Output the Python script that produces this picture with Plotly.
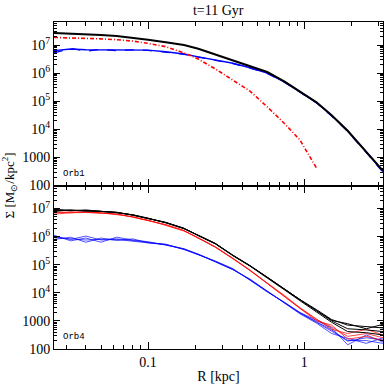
import numpy as np
import plotly.graph_objects as go

# radii [kpc]
R = [0.025, 0.032, 0.04, 0.05, 0.063, 0.08, 0.1, 0.13, 0.17, 0.21, 0.27,
     0.35, 0.45, 0.58, 0.75, 0.94, 1.2, 1.5, 1.9, 2.5, 3.2]

# ---- Orb1 (top panel), log10 Sigma ----
orb1_total = [7.43, 7.41, 7.39, 7.36, 7.32, 7.26, 7.19, 7.10, 7.00, 6.87, 6.66,
              6.44, 6.23, 6.04, 5.70, 5.35, 4.96, 4.50, 3.95, 3.20, 2.52]
orb1_dm = [6.80, 6.86, 6.83, 6.83, 6.82, 6.82, 6.82, 6.76, 6.68, 6.58, 6.47,
           6.35, 6.19, 6.00, 5.68, 5.34, 4.95, 4.49, 3.94, 3.19, 2.50]
orb1_dm_b = [6.72, 6.88, 6.78, 6.85, 6.80, 6.83, 6.81, 6.75, 6.67, 6.57, 6.46,
             6.34, 6.18, 5.99, 5.67, 5.33, 4.94, 4.47, 3.92, 3.17, 2.47]
orb1_star = [7.27, 7.26, 7.24, 7.22, 7.19, 7.14, 7.06, 6.94, 6.72, 6.50, 6.15,
             5.75, 5.36, 4.80, 4.20, 3.62, 2.62]

# ---- Orb4 (bottom panel), several snapshots, log10 Sigma ----
orb4_total = [
    [6.93, 6.94, 6.93, 6.90, 6.86, 6.77, 6.65, 6.50, 6.29, 6.04, 5.75,
     5.33, 4.96, 4.55, 4.12, 3.74, 3.36, 3.00, 2.72, 2.68, 2.62],
    [6.95, 6.92, 6.95, 6.91, 6.85, 6.78, 6.66, 6.49, 6.28, 6.05, 5.76,
     5.34, 4.97, 4.56, 4.14, 3.76, 3.40, 3.05, 2.85, 2.80, 2.75],
    [6.90, 6.95, 6.92, 6.89, 6.87, 6.76, 6.64, 6.51, 6.30, 6.03, 5.74,
     5.32, 4.95, 4.54, 4.10, 3.72, 3.33, 2.95, 2.62, 2.58, 2.50],
    [6.97, 6.93, 6.91, 6.90, 6.86, 6.77, 6.65, 6.50, 6.29, 6.04, 5.75,
     5.33, 4.96, 4.55, 4.12, 3.75, 3.37, 3.02, 2.90, 2.72, 2.88],
]
orb4_star = [
    [6.85, 6.88, 6.87, 6.84, 6.80, 6.70, 6.58, 6.42, 6.21, 5.95, 5.63,
     5.22, 4.80, 4.34, 3.88, 3.45, 3.05, 2.78, 2.45, 2.55, 2.40],
    [6.80, 6.86, 6.89, 6.85, 6.79, 6.71, 6.59, 6.41, 6.20, 5.96, 5.64,
     5.23, 4.81, 4.35, 3.90, 3.47, 3.08, 2.70, 2.55, 2.70, 2.50],
    [6.88, 6.85, 6.86, 6.83, 6.81, 6.69, 6.57, 6.43, 6.22, 5.94, 5.62,
     5.21, 4.79, 4.33, 3.86, 3.42, 3.00, 2.85, 2.35, 2.45, 2.30],
]
orb4_dm = [
    [5.97, 5.92, 5.88, 5.90, 5.92, 5.86, 5.80, 5.72, 5.56, 5.36, 5.12,
     4.84, 4.47, 4.05, 3.64, 3.28, 2.97, 2.68, 2.28, 2.40, 2.32],
    [6.05, 5.85, 5.95, 5.80, 5.98, 5.88, 5.82, 5.70, 5.57, 5.37, 5.10,
     4.82, 4.49, 4.07, 3.62, 3.25, 2.92, 2.55, 2.38, 2.20, 2.40],
    [5.90, 5.98, 5.80, 5.95, 5.86, 5.92, 5.78, 5.73, 5.54, 5.35, 5.13,
     4.86, 4.45, 4.03, 3.66, 3.30, 3.02, 2.75, 2.15, 2.50, 2.25],
    [6.00, 5.90, 6.02, 5.88, 5.90, 5.84, 5.79, 5.71, 5.55, 5.38, 5.11,
     4.83, 4.46, 4.06, 3.63, 3.29, 2.95, 2.62, 2.30, 2.30, 2.20],
]

# y tick labels as printed on the figure
ylabel_alias = {"10k": "10<sup>4</sup>", "100k": "10<sup>5</sup>",
                "1M": "10<sup>6</sup>", "10M": "10<sup>7</sup>"}
# minor tick positions
xminor = [0.03, 0.04, 0.05, 0.06, 0.07, 0.08, 0.09,
          0.2, 0.3, 0.4, 0.5, 0.6, 0.7, 0.8, 0.9, 2, 3]
yminor = [m * 10 ** e for e in range(2, 8) for m in range(2, 10)]

SERIF = "Liberation Serif, Times New Roman, serif"
XRANGE = [-1.602, 0.505]
YRANGE = [2, 7.82]


def sig(logs):
    return [10 ** v for v in logs]


fig = go.Figure()

# top panel
fig.add_trace(go.Scatter(x=R, y=sig(orb1_dm), mode="lines", xaxis="x2", yaxis="y2",
                         line=dict(color="#0000ff", width=1.4)))
fig.add_trace(go.Scatter(x=R, y=sig(orb1_dm_b), mode="lines", xaxis="x2", yaxis="y2",
                         line=dict(color="#0000ff", width=1.2, dash="dash")))
fig.add_trace(go.Scatter(x=R[:len(orb1_star)], y=sig(orb1_star), mode="lines",
                         xaxis="x2", yaxis="y2",
                         line=dict(color="#ff0000", width=1.6, dash="4px,2px,1px,2px")))
fig.add_trace(go.Scatter(x=R, y=sig(orb1_total), mode="lines", xaxis="x2", yaxis="y2",
                         line=dict(color="black", width=2)))

# bottom panel
for ys in orb4_dm:
    fig.add_trace(go.Scatter(x=R, y=sig(ys), mode="lines",
                             line=dict(color="#0000ff", width=0.9), opacity=0.75))
for ys in orb4_star:
    fig.add_trace(go.Scatter(x=R, y=sig(ys), mode="lines",
                             line=dict(color="#ff0000", width=0.9), opacity=0.8))
for ys in orb4_total:
    fig.add_trace(go.Scatter(x=R, y=sig(ys), mode="lines",
                             line=dict(color="black", width=1)))

# empty traces so the minor-tick overlay axes get drawn
fig.add_trace(go.Scatter(x=[], y=[], xaxis="x3", yaxis="y3", hoverinfo="skip"))
fig.add_trace(go.Scatter(x=[], y=[], xaxis="x4", yaxis="y4", hoverinfo="skip"))

xcommon = dict(type="log", range=XRANGE, showline=True, linecolor="black",
               linewidth=1, mirror="allticks", ticks="inside", ticklen=7,
               tickcolor="black", tickmode="linear", tick0=0, dtick=1,
               showgrid=False, zeroline=False, automargin=False,
               tickfont=dict(family=SERIF, size=14, color="black"))
ycommon = dict(type="log", range=YRANGE, showline=True, linecolor="black",
               linewidth=1, mirror="allticks", ticks="inside", ticklen=6,
               tickcolor="black", tickmode="linear", tick0=0, dtick=1,
               exponentformat="SI", labelalias=ylabel_alias,
               showgrid=False, zeroline=False, automargin=False,
               tickfont=dict(family=SERIF, size=14, color="black"))
xminor_ax = dict(type="log", range=XRANGE, showline=False, mirror="allticks",
                 ticks="inside", ticklen=4, tickcolor="black", tickmode="array",
                 tickvals=xminor, showticklabels=False, showgrid=False,
                 zeroline=False, automargin=False)
yminor_ax = dict(type="log", range=YRANGE, showline=False, mirror="allticks",
                 ticks="inside", ticklen=3, tickcolor="black", tickmode="array",
                 tickvals=yminor, showticklabels=False, showgrid=False,
                 zeroline=False, automargin=False)

fig.update_layout(
    width=391, height=391,
    margin=dict(l=54, r=8, t=22, b=42),
    paper_bgcolor="white", plot_bgcolor="white",
    showlegend=False,
    title=dict(text="t=11 Gyr", x=0.558, xanchor="center", y=0.975, yanchor="middle",
               font=dict(family=SERIF, size=14, color="black")),
    xaxis=dict(xcommon, anchor="y",
               title=dict(text="R [kpc]", standoff=2,
                          font=dict(family=SERIF, size=14, color="black"))),
    xaxis2=dict(xcommon, anchor="y2", matches="x", showticklabels=False),
    yaxis=dict(ycommon, domain=[0, 0.5], anchor="x"),
    yaxis2=dict(ycommon, domain=[0.5, 1], anchor="x2"),
    xaxis3=dict(xminor_ax, overlaying="x", anchor="y"),
    yaxis3=dict(yminor_ax, overlaying="y", anchor="x", domain=[0, 0.5]),
    xaxis4=dict(xminor_ax, overlaying="x2", anchor="y2"),
    yaxis4=dict(yminor_ax, overlaying="y2", anchor="x2", domain=[0.5, 1]),
    annotations=[
        dict(text="Orb1", xref="x2 domain", yref="y2 domain", x=0.02, y=0.03,
             xanchor="left", yanchor="bottom", showarrow=False,
             font=dict(family="Liberation Mono, monospace", size=9, color="black")),
        dict(text="Orb4", xref="x domain", yref="y domain", x=0.02, y=0.03,
             xanchor="left", yanchor="bottom", showarrow=False,
             font=dict(family="Liberation Mono, monospace", size=9, color="black")),
        dict(text="Σ [M<sub>⊙</sub>/kpc<sup>2</sup>]", xref="paper", yref="paper",
             x=-0.137, y=0.5, textangle=-90, showarrow=False,
             xanchor="center", yanchor="middle",
             font=dict(family=SERIF, size=13, color="black")),
    ],
)

fig.write_html("out.html", config={"displayModeBar": False},
               post_script="document.body.style.margin='0px';")
